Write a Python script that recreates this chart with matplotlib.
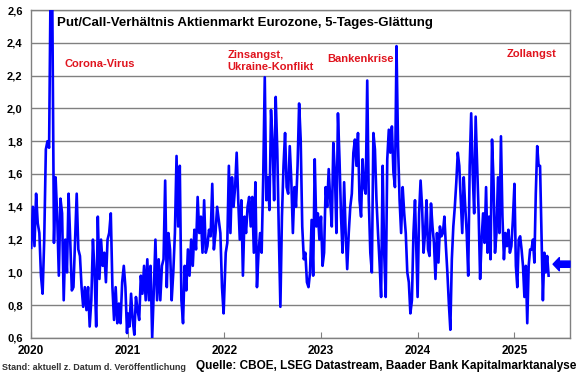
import numpy as np
import pandas as pd
import matplotlib
matplotlib.use('Agg')
import matplotlib.pyplot as plt
import matplotlib.dates as mdates
from matplotlib.ticker import FuncFormatter

plt.rcParams['font.family'] = ['Liberation Sans', 'DejaVu Sans']

# put/call ratio, 5-day smoothing
pc_2020 = [1.15, 1.40, 1.16, 1.48, 1.30, 1.24, 0.98, 0.87, 1.20, 1.75, 1.80, 1.76, 2.85, 2.60,
           1.18, 1.58, 1.34, 0.98, 1.45, 1.36, 0.83, 1.20, 1.00, 1.48, 1.20, 0.89, 0.91, 1.20,
           1.48, 1.14, 1.10, 0.91, 0.79, 0.91, 0.77, 0.91, 0.67, 0.83, 1.20, 1.00, 0.67, 1.34,
           0.96, 1.20, 1.04, 1.12, 0.94, 1.20, 1.24, 1.36, 0.91, 0.71, 0.91, 0.69, 0.81, 0.69,
           0.94, 1.04, 0.91, 0.63]
pc_2021 = [0.75, 0.67, 0.87, 0.71, 0.62, 0.85, 0.77, 0.71, 0.98, 0.87, 1.04, 0.83, 1.08, 0.83,
           1.04, 0.60, 0.89, 1.20, 0.83, 1.08, 0.83, 1.04, 1.08, 1.56, 0.91, 1.24, 1.14, 0.83,
           1.00, 1.24, 1.71, 1.28, 1.65, 0.83, 0.69, 1.04, 0.89, 1.14, 0.98, 1.20, 1.04, 1.26,
           1.14, 1.46, 1.24, 1.34, 1.12, 1.44, 1.12, 1.16, 1.26, 1.22, 1.54, 1.14, 1.24, 1.40,
           1.32, 1.24, 0.91, 0.75]
pc_2022 = [1.12, 1.18, 1.65, 1.24, 1.58, 1.40, 1.52, 1.73, 1.44, 1.20, 1.44, 0.98, 1.34, 1.24,
           1.40, 1.46, 1.28, 1.46, 1.12, 1.55, 0.91, 1.12, 1.24, 1.12, 1.58, 2.19, 1.44, 1.58,
           1.38, 1.99, 1.79, 1.44, 2.07, 1.75, 1.24, 0.79, 1.34, 1.65, 1.85, 1.52, 1.48, 1.77,
           1.56, 1.24, 1.52, 1.40, 1.65, 2.03, 1.81, 1.28, 1.08, 1.12, 0.94, 0.91, 1.00, 1.32,
           0.98, 1.69, 1.28, 1.36, 1.20]
pc_2023 = [1.34, 1.04, 1.12, 1.52, 1.40, 1.63, 1.44, 1.28, 1.79, 1.61, 1.24, 1.97, 1.69, 1.34,
           1.12, 1.55, 1.24, 1.02, 1.24, 1.40, 1.48, 1.73, 1.81, 1.65, 1.85, 1.44, 1.34, 1.69,
           1.52, 1.48, 2.17, 1.44, 1.12, 1.00, 1.85, 1.75, 1.44, 1.24, 1.06, 0.85, 1.65, 1.12,
           0.85, 1.69, 1.87, 1.73, 1.89, 1.61, 1.52, 2.38, 1.77, 1.44, 1.24, 1.52, 1.36, 1.24,
           1.00, 0.94, 0.75, 0.83, 1.24, 1.44, 1.08]
pc_2024 = [0.85, 1.36, 1.56, 1.40, 1.12, 1.24, 1.44, 1.14, 1.10, 1.42, 1.28, 1.18, 0.96, 1.24,
           1.06, 1.28, 1.22, 1.24, 1.34, 1.16, 1.00, 0.81, 0.65, 1.08, 1.28, 1.40, 1.55, 1.73,
           1.65, 1.44, 1.24, 1.58, 1.40, 1.24, 0.98, 1.65, 1.97, 1.61, 1.36, 1.95, 1.65, 1.36,
           0.96, 1.20, 1.36, 1.18, 1.52, 1.12, 1.34, 1.08, 1.81, 1.56, 1.12, 1.24, 1.58, 1.24,
           1.83, 1.34, 1.08, 1.24, 1.16, 1.26, 1.12, 1.16, 1.32]
pc_2025 = [1.54, 1.04, 0.91, 1.20, 1.22, 1.14, 1.04, 0.85, 1.04, 0.69, 1.04, 1.14, 1.14, 1.20,
           1.06, 1.48, 1.77, 1.65, 1.65, 1.24, 0.83, 1.12, 1.00, 1.10, 0.98]

year_spans = [('2020-01-02', '2020-12-29', pc_2020),
              ('2021-01-01', '2021-12-29', pc_2021),
              ('2022-01-06', '2022-12-26', pc_2022),
              ('2023-01-01', '2023-12-28', pc_2023),
              ('2024-01-01', '2024-12-26', pc_2024),
              ('2025-01-01', '2025-05-10', pc_2025)]

dates = []
values = []
for start, end, vals in year_spans:
    dates.extend(pd.date_range(start, end, periods=len(vals)))
    values.extend(vals)
df = pd.DataFrame({'date': dates, 'pc': values})

events = [('Corona-Virus', '2020-05-08', 2.27),
          ('Zinsangst,\nUkraine-Konflikt', '2022-01-13', 2.29),
          ('Bankenkrise', '2023-01-25', 2.30),
          ('Zollangst', '2024-12-01', 2.33)]

fig = plt.figure(figsize=(5.8, 3.75), dpi=100)
ax = fig.add_axes([0.0534, 0.0987, 0.9294, 0.8746])

ax.plot(df['date'], df['pc'], color='#0000ff', linewidth=1.9, zorder=3)

ax.set_ylim(0.6, 2.6)
ax.set_yticks(np.arange(0.6, 2.61, 0.2))
ax.yaxis.set_major_formatter(FuncFormatter(lambda v, p: f'{v:.1f}'.replace('.', ',')))
ax.set_xlim(pd.Timestamp('2020-01-01'), pd.Timestamp('2025-07-30'))
ax.xaxis.set_major_locator(mdates.YearLocator())
ax.xaxis.set_major_formatter(mdates.DateFormatter('%Y'))

ax.grid(axis='y', color='#808080', linewidth=1)
ax.set_axisbelow(True)
for s in ax.spines.values():
    s.set_color('#808080')
    s.set_linewidth(1)
ax.tick_params(axis='y', length=0, pad=6, labelsize=8)
ax.tick_params(axis='x', direction='in', length=4, color='#808080', pad=5, labelsize=8.5)
for lab in ax.get_xticklabels() + ax.get_yticklabels():
    lab.set_fontweight('bold')

ax.text(0.048, 0.96, 'Put/Call-Verhältnis Aktienmarkt Eurozone, 5-Tages-Glättung',
        transform=ax.transAxes, fontsize=9.5, fontweight='bold', va='center', ha='left')

for label, d, y in events:
    ax.text(pd.Timestamp(d), y, label, color='#e0141e', fontsize=8, fontweight='bold',
            va='center', ha='left', linespacing=1.3)

# arrow marking the current value
ax.annotate('', xy=(pd.Timestamp('2025-05-27'), 1.05), xytext=(pd.Timestamp('2025-07-30'), 1.05),
            arrowprops=dict(arrowstyle='simple,head_length=0.45,head_width=0.95,tail_width=0.45',
                            color='#0000ff', shrinkA=0, shrinkB=0))

fig.text(0.004, 0.02, 'Stand: aktuell z. Datum d. Veröffentlichung', fontsize=6.5,
         fontweight='bold', color='#333333', ha='left', va='center')
fig.text(0.993, 0.025, 'Quelle: CBOE, LSEG Datastream, Baader Bank Kapitalmarktanalyse',
         fontsize=8.5, fontweight='bold', ha='right', va='center')

fig.savefig('out.png', dpi=100)
